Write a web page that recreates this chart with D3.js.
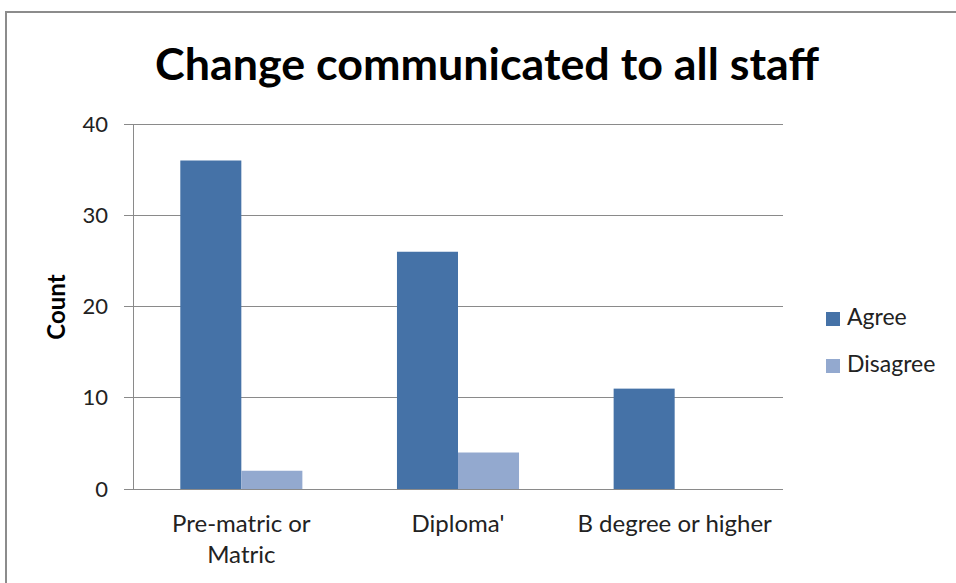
<!DOCTYPE html>
<html>
<head>
<meta charset="utf-8">
<script src="https://cdn.jsdelivr.net/npm/d3@7"></script>
<style>
  html, body { margin: 0; padding: 0; background: #fff; }
  svg { display: block; font-family: Lato, "Open Sans", sans-serif; }
</style>
</head>
<body>
<svg id="chart" width="956" height="583"></svg>
<script>
// Education level categories and response counts
const categories = ["Pre-matric or Matric", "Diploma'", "B degree or higher"];
const categoryLines = [["Pre-matric or", "Matric"], ["Diploma'"], ["B degree or higher"]];
const seriesNames = ["Agree", "Disagree"];
const agree = [36, 26, 11];
const disagree = [2, 4, 0];
const yTicks = [0, 10, 20, 30, 40];
const colors = ["#4572A7", "#93A9CF"];

const svg = d3.select("#chart");
const W = 956, H = 583;

// outer frame
svg.append("rect")
  .attr("x", 6).attr("y", 12).attr("width", W + 10).attr("height", H + 10)
  .attr("fill", "#fff").attr("stroke", "#8c8c8c").attr("stroke-width", 2);

const plot = { left: 133, right: 783, top: 124, bottom: 489 };

const x0 = d3.scaleBand().domain(categories).range([plot.left, plot.right]).paddingInner(0).paddingOuter(0);
const x1 = d3.scaleBand().domain(seriesNames).range([0, x0.bandwidth() * 2 / 3.55]);
const y = d3.scaleLinear().domain([0, 40]).range([plot.bottom, plot.top]);

// gridlines
svg.append("g").selectAll("line").data(yTicks).join("line")
  .attr("x1", plot.left - 9).attr("x2", plot.right)
  .attr("y1", d => y(d)).attr("y2", d => y(d))
  .attr("stroke", "#8a8a8a").attr("stroke-width", 1).attr("shape-rendering", "crispEdges");

// y axis labels
const yAxis = d3.axisLeft(y).tickValues(yTicks).tickSize(0).tickPadding(16);
const gy = svg.append("g").attr("transform", `translate(${plot.left - 9},0)`).call(yAxis);
gy.select(".domain").remove();
gy.selectAll("text").attr("font-size", 22).attr("fill", "#222").attr("font-family", "Lato, sans-serif");

// vertical axis line
svg.append("line")
  .attr("x1", plot.left).attr("x2", plot.left).attr("y1", plot.top).attr("y2", plot.bottom)
  .attr("stroke", "#8a8a8a").attr("shape-rendering", "crispEdges");

// bars
const groups = svg.append("g").selectAll("g").data(categories).join("g")
  .attr("transform", d => `translate(${x0(d) + (x0.bandwidth() - x1.range()[1]) / 2},0)`);
groups.selectAll("rect")
  .data((d, i) => [agree[i], disagree[i]].map((v, j) => ({ s: seriesNames[j], v, j })))
  .join("rect")
  .attr("x", d => x1(d.s))
  .attr("width", x1.bandwidth())
  .attr("y", d => y(d.v))
  .attr("height", d => y(0) - y(d.v))
  .attr("fill", d => colors[d.j]);

// baseline over bars
svg.append("line")
  .attr("x1", plot.left - 9).attr("x2", plot.right).attr("y1", y(0)).attr("y2", y(0))
  .attr("stroke", "#8a8a8a").attr("shape-rendering", "crispEdges");

// category labels
const xl = svg.append("g");
categories.forEach((c, i) => {
  const cx = x0(c) + x0.bandwidth() / 2;
  categoryLines[i].forEach((line, k) => {
    xl.append("text")
      .attr("x", cx).attr("y", 532 + k * 31)
      .attr("text-anchor", "middle")
      .attr("font-size", 24).attr("fill", "#222")
      .text(line);
  });
});

// y axis title
svg.append("text")
  .attr("transform", "translate(65,307) rotate(-90)")
  .attr("text-anchor", "middle")
  .attr("font-size", 24).attr("font-weight", "bold").attr("fill", "#000")
  .text("Count");

// chart title
svg.append("text")
  .attr("x", 487).attr("y", 80)
  .attr("text-anchor", "middle")
  .attr("font-size", 43).attr("font-weight", "bold").attr("fill", "#000")
  .attr("textLength", 664).attr("lengthAdjust", "spacingAndGlyphs")
  .text("Change communicated to all staff");

// legend
const legend = svg.append("g").selectAll("g").data(seriesNames).join("g")
  .attr("transform", (d, i) => `translate(826,${312 + i * 47})`);
legend.append("rect").attr("width", 14).attr("height", 14).attr("fill", (d, i) => colors[i]);
legend.append("text").attr("x", 21).attr("y", 13)
  .attr("font-size", 23).attr("fill", "#222").text(d => d);
</script>
</body>
</html>
